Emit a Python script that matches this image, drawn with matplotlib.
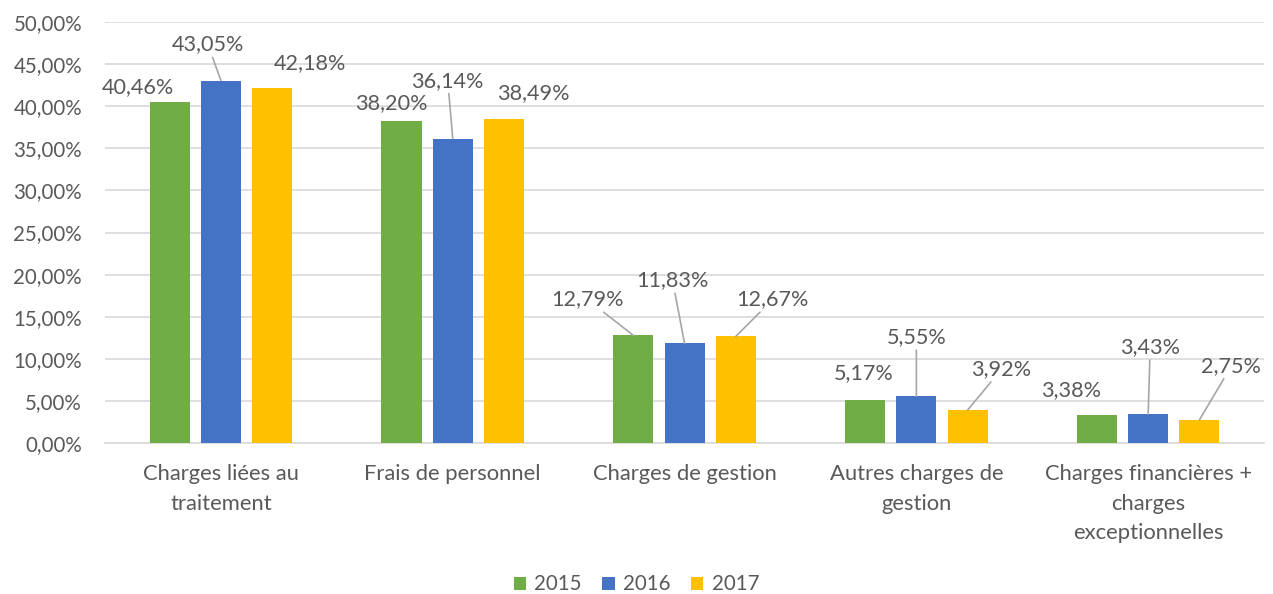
import numpy as np
import matplotlib.pyplot as plt
from matplotlib.ticker import FuncFormatter

plt.rcParams['font.family'] = ['Lato', 'DejaVu Sans']

# données
categories = ['Charges liées au\ntraitement', 'Frais de personnel', 'Charges de gestion',
              'Autres charges de\ngestion', 'Charges financières +\ncharges\nexceptionnelles']
years = ['2015', '2016', '2017']
v2015 = [40.46, 38.20, 12.79, 5.17, 3.38]
v2016 = [43.05, 36.14, 11.83, 5.55, 3.43]
v2017 = [42.18, 38.49, 12.67, 3.92, 2.75]
colors = ['#70AD47', '#4472C4', '#FFC000']

# position des étiquettes (décalage en pixels depuis le haut de la barre) + trait de rappel
label_offsets = [
    [(-32, 15, False), (-13, 36, True), (38, 25, False)],
    [(-10, 18, False), (-5, 58, True), (29, 26, False)],
    [(-46, 36, True), (-12, 63, True), (37, 37, True)],
    [(-1, 26, False), (0, 59, True), (34, 41, True)],
    [(-26, 25, False), (2, 67, True), (32, 54, True)],
]

txt = '#595959'
fig = plt.figure(figsize=(12.73, 5.94), dpi=100)
ax = fig.add_axes([0.0825, 0.254, 0.9105, 0.709])

x = np.arange(len(categories))
w = 0.173
step = 0.221
series = [v2015, v2016, v2017]
for i, vals in enumerate(series):
    ax.bar(x + (i - 1) * step, vals, w, color=colors[i], label=years[i], zorder=3)

for j in range(len(categories)):
    for i, vals in enumerate(series):
        dx, dy, lead = label_offsets[j][i]
        s = f'{vals[j]:.2f}%'.replace('.', ',')
        kw = {}
        if lead:
            kw['arrowprops'] = dict(arrowstyle='-', color='#A6A6A6', lw=1.2,
                                    shrinkA=0, shrinkB=0)
        ax.annotate(s, xy=(x[j] + (i - 1) * step, vals[j]), xytext=(dx, dy),
                    textcoords='offset pixels', ha='center', va='center',
                    fontsize=15.6, color=txt, **kw)

ax.set_xlim(-0.5, len(categories) - 0.5)
ax.set_ylim(0, 50)
ax.set_yticks(np.arange(0, 51, 5))
ax.yaxis.set_major_formatter(FuncFormatter(lambda v, p: f'{v:.2f}%'.replace('.', ',')))
ax.set_xticks(x)
ax.set_xticklabels(categories, linespacing=1.6)
ax.tick_params(axis='y', length=0, pad=16.5, labelsize=14.8, labelcolor=txt)
ax.tick_params(axis='x', length=0, pad=15, labelsize=15.8, labelcolor=txt)
ax.grid(axis='y', color='#D9D9D9', lw=1.2, zorder=0)
for s in ['top', 'right', 'left']:
    ax.spines[s].set_visible(False)
ax.spines['bottom'].set_color('#D9D9D9')
ax.spines['bottom'].set_linewidth(1.2)

leg = fig.legend(loc='center', bbox_to_anchor=(0.5, 0.016), ncol=3, frameon=False,
                 fontsize=14.8, handlelength=0.6, handleheight=0.6, handletextpad=0.4,
                 columnspacing=1.0)
for t in leg.get_texts():
    t.set_color(txt)

fig.savefig('out.png', dpi=100)
